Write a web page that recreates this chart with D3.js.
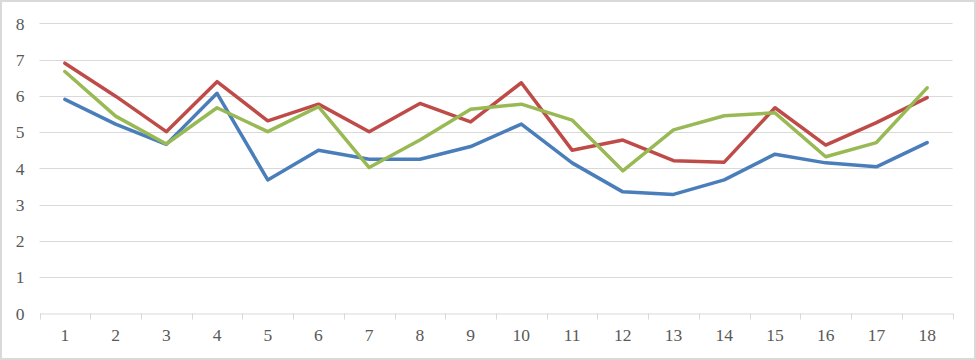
<!DOCTYPE html>
<html><head><meta charset="utf-8">
<script src="https://cdn.jsdelivr.net/npm/d3@7"></script>
<style>body{margin:0;background:#fff}svg{display:block}</style>
</head><body>
<svg id="c" width="976" height="360"></svg>
<script>
const categories = ["1","2","3","4","5","6","7","8","9","10","11","12","13","14","15","16","17","18"];
const yTicks = [0,1,2,3,4,5,6,7,8];
const blue  = [5.90,5.22,4.66,6.07,3.68,4.50,4.25,4.25,4.60,5.22,4.15,3.35,3.28,3.68,4.39,4.15,4.04,4.71];
const red   = [6.90,5.99,5.01,6.39,5.31,5.77,5.01,5.79,5.28,6.36,4.50,4.78,4.21,4.17,5.67,4.64,5.26,5.95];
const green = [6.67,5.44,4.67,5.67,5.01,5.70,4.02,4.78,5.63,5.77,5.33,3.93,5.06,5.45,5.53,4.32,4.71,6.22];
const seriesList = [
  {name:"blue", values: blue, color:"#4a7ebb"},
  {name:"red", values: red, color:"#be4b48"},
  {name:"green", values: green, color:"#98b954"}
];

const svg = d3.select("#c");
const L = 39.5, R = 952.5, T = 23.3, B = 313.3;
svg.append("rect").attr("x",1).attr("y",1).attr("width",974).attr("height",358)
  .attr("fill","#fff").attr("stroke","#d9d9d9").attr("stroke-width",2);

const x = d3.scaleBand().domain(categories).range([L,R]);
const y = d3.scaleLinear().domain([0,8]).range([B,T]);

// gridlines
svg.append("g").selectAll("line").data(yTicks.filter(d=>d>0)).join("line")
  .attr("x1",L).attr("x2",R)
  .attr("y1",d=>Math.round(y(d))+0.5).attr("y2",d=>Math.round(y(d))+0.5)
  .attr("stroke","#d9d9d9").attr("stroke-width",1);

const fontFam = "'Liberation Serif', 'Times New Roman', serif";
// y axis labels
const yAxis = d3.axisLeft(y).tickValues(yTicks).tickSize(0).tickPadding(0).tickFormat(d3.format("d"));
const gy = svg.append("g").attr("transform",`translate(${L-15},0)`).call(yAxis);
gy.select(".domain").remove();
gy.selectAll("text").attr("font-family",fontFam)
  .attr("font-size",17.5).attr("fill","#595959").attr("dy","0.33em");

// x axis
const xAxis = d3.axisBottom(x).tickSize(0).tickPadding(0);
const gx = svg.append("g").attr("transform",`translate(0,${Math.round(B)+0.5})`).call(xAxis);
gx.select(".domain").attr("stroke","#d9d9d9");
gx.selectAll("text").attr("font-family",fontFam)
  .attr("font-size",17.5).attr("fill","#595959").attr("y",22).attr("dy","0.33em");
// tick marks at band boundaries
const bounds = categories.map(c=>x(c)).concat([R]);
gx.append("g").selectAll("line").data(bounds).join("line")
  .attr("x1",d=>Math.round(d)+0.5).attr("x2",d=>Math.round(d)+0.5)
  .attr("y1",0).attr("y2",6).attr("stroke","#d9d9d9");

// lines
const line = d3.line().x((d,i)=>x(categories[i])+x.bandwidth()/2).y(d=>y(d));
svg.append("g").selectAll("path").data(seriesList).join("path")
  .attr("d",s=>line(s.values)).attr("fill","none")
  .attr("stroke",s=>s.color).attr("stroke-width",3.5)
  .attr("stroke-linejoin","round").attr("stroke-linecap","round");
</script>
</body></html>
